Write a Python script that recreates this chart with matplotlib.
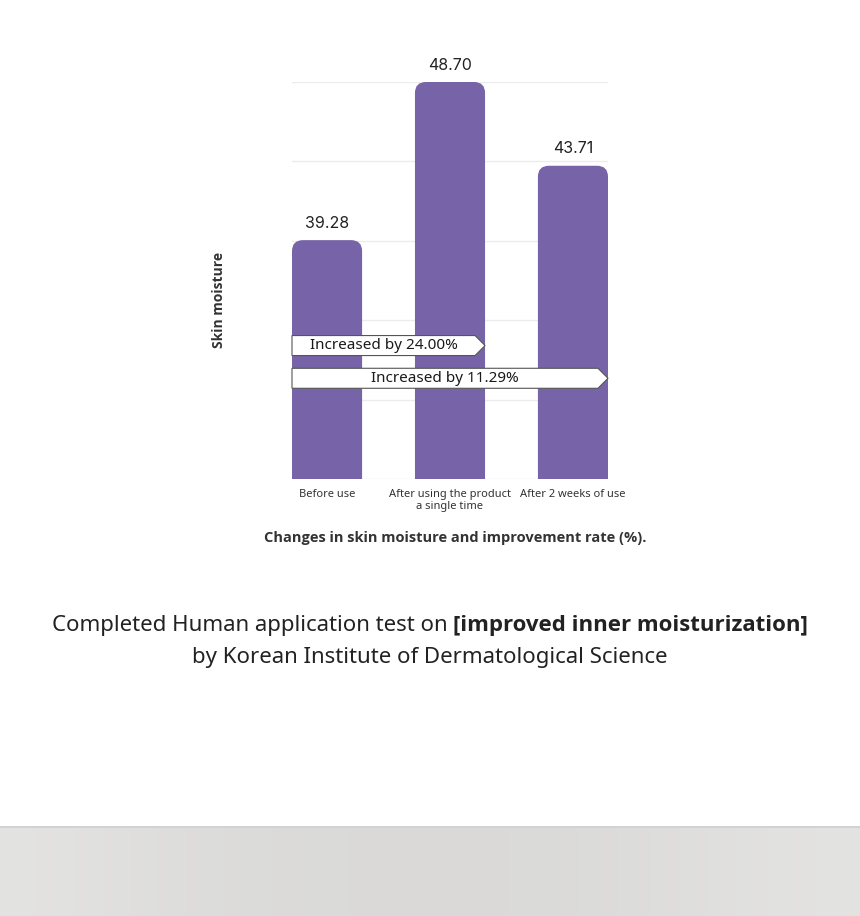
import matplotlib
matplotlib.use("Agg")
import matplotlib.pyplot as plt
from matplotlib.patches import FancyBboxPatch, Polygon
import numpy as np

# 데이터
categories = ["Before use", "After using the product\na single time", "After 2 weeks of use"]
values = [39.28, 48.70, 43.71]
value_labels = ["39.28", "48.70", "43.71"]
compare_labels = ["Increased by 24.00%", "Increased by 11.29%"]
compare_to = [1, 2]      # 비교 대상 막대 인덱스
compare_y = [33.0, 31.05]  # 화살표 중심 높이

W, H = 860, 916
fig = plt.figure(figsize=(W / 100, H / 100), dpi=100)
fig.patch.set_facecolor("white")

# 아래 회색 띠
band = fig.add_axes([0, 0, 1, 90 / H])
grad = np.array([[0.89, 0.87, 0.86, 0.855, 0.855, 0.86, 0.875, 0.89]])
band.imshow(np.dstack([grad, grad * 0.998, grad * 0.99]), aspect="auto",
            interpolation="bicubic", extent=[0, 1, 0, 1])
band.axhline(0.99, color="#d2d2d2", lw=1.5)
band.set_axis_off()

ybot, ytop = 25.05, 48.70
ax = fig.add_axes([292 / W, (H - 479) / H, 316 / W, 397 / H])
bw = 0.57
ax.set_xlim(-bw / 2, 2 + bw / 2)
ax.set_ylim(ybot, ytop)

for g in np.linspace(ybot, ytop, 6):
    ax.axhline(g, color="#ececec", lw=1, zorder=0)

px_x = (2 + bw) / 316
px_y = (ytop - ybot) / 397
r = 11 * px_x
for i, v in enumerate(values):
    p = FancyBboxPatch((i - bw / 2 + r, ybot - 3), bw - 2 * r, v - ybot + 3 - r * px_y / px_x,
                       boxstyle="round,pad=%f,rounding_size=%f" % (r, r),
                       mutation_aspect=px_y / px_x, fc="#7763a8", ec="none", zorder=2)
    ax.add_patch(p)
    ax.text(i, v + 17 * px_y, value_labels[i], ha="center", va="center",
            fontsize=11.5, family="Inter", color="#222222", clip_on=False)

# 비교 화살표
ah = 20 * px_y
tip = 10 * px_x
for lab, j, yc in zip(compare_labels, compare_to, compare_y):
    x0 = -bw / 2
    x1 = j + bw / 2
    pts = [(x0, yc - ah / 2), (x1 - tip, yc - ah / 2), (x1, yc),
           (x1 - tip, yc + ah / 2), (x0, yc + ah / 2)]
    ax.add_patch(Polygon(pts, closed=True, fc="white", ec="#555555", lw=0.8,
                         zorder=3, clip_on=False))
    ax.text((x0 + x1 - tip) / 2, yc, lab, ha="center", va="center",
            fontsize=11, family="Noto Sans", color="#1a1a1a", zorder=4)

ax.set_xticks(range(len(categories)))
ax.set_xticklabels(categories, fontsize=8, family="Noto Sans", color="#333333",
                   linespacing=1.1, va="top")
ax.tick_params(axis="x", length=0, pad=7)
ax.set_yticks([])
for s in ax.spines.values():
    s.set_visible(False)

fig.text(219 / W, 1 - 300 / H, "Skin moisture", rotation=90, ha="center", va="center",
         fontsize=10, family="Open Sans", weight="bold", color="#333333")

fig.text(455 / W, 1 - 538 / H, "Changes in skin moisture and improvement rate (%).",
         ha="center", va="center", fontsize=10.5, family="Open Sans",
         weight="bold", color="#333333")

# 큰 문구 (일부 굵게)
part1 = "Completed Human application test on "
part2 = "[improved inner moisturization]"
t1 = fig.text(0, 1 - 626 / H, part1, ha="left", va="center", fontsize=16,
              family="Noto Sans", color="#222222")
t2 = fig.text(0, 1 - 626 / H, part2, ha="left", va="center", fontsize=16,
              family="Open Sans", weight="bold", color="#222222")
fig.canvas.draw()
rend = fig.canvas.get_renderer()
w1 = t1.get_window_extent(rend).width
w2 = t2.get_window_extent(rend).width
start = (W - (w1 + w2)) / 2
t1.set_x(start / W)
t2.set_x((start + w1) / W)
fig.text(0.5, 1 - 657 / H, "by Korean Institute of Dermatological Science",
         ha="center", va="center", fontsize=16, family="Noto Sans", color="#222222")

fig.savefig("out.png", dpi=100, facecolor="white")
